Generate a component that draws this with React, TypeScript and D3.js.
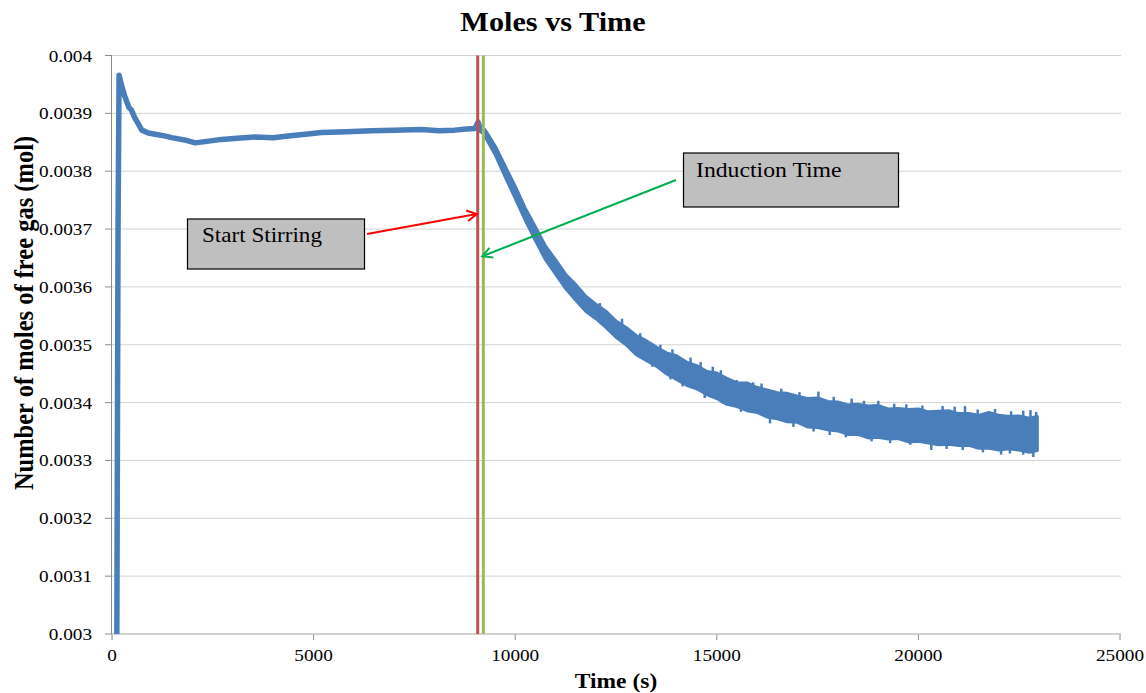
import React from 'react';
import * as d3 from 'd3';

// time (s) and moles before stirring starts (single trace)
const preTime = [120, 150, 175, 250, 320, 420, 480, 560, 740, 900, 1070, 1300, 1480, 1800, 2060, 2400, 2720, 3100, 3550, 4000, 4370, 4800, 5200, 5800, 6440, 7000, 7680, 8100, 8500, 8800, 9000, 9080, 9150, 9250];
const preMoles = [0.0030, 0.0037, 0.003966, 0.003945, 0.003929, 0.00391, 0.003906, 0.003893, 0.003871, 0.003866, 0.003864, 0.003861, 0.003858, 0.003854, 0.003849, 0.003852, 0.003855, 0.003857, 0.003859, 0.003858, 0.003861, 0.003864, 0.003867, 0.003868, 0.00387, 0.003871, 0.003872, 0.00387, 0.003871, 0.003873, 0.003874, 0.003885, 0.00387, 0.003866];

// after stirring the trace gets noisy: upper / lower envelope of the band
const postTime = [9250, 9500, 9750, 10000, 10250, 10500, 10750, 11000, 11250, 11500, 11750, 12000, 12250, 12500, 12750, 13000, 13250, 13500, 13750, 14000, 14250, 14500, 14750, 15000, 15250, 15500, 15750, 16000, 16250, 16500, 16750, 17000, 17250, 17500, 17750, 18000, 18250, 18500, 18750, 19000, 19250, 19500, 19750, 20000, 20250, 20500, 20750, 21000, 21250, 21500, 21750, 22000, 22250, 22500, 22750, 22950];
const postUpper = [0.003872, 0.003844, 0.003809, 0.003774, 0.003736, 0.003704, 0.003671, 0.003647, 0.003622, 0.003604, 0.003584, 0.00357, 0.003558, 0.003541, 0.00353, 0.003516, 0.003507, 0.003496, 0.003486, 0.003481, 0.00347, 0.003464, 0.003454, 0.003451, 0.003442, 0.003434, 0.003434, 0.003426, 0.003422, 0.003417, 0.003416, 0.003411, 0.003407, 0.003408, 0.003402, 0.003401, 0.003396, 0.003397, 0.003394, 0.003395, 0.003389, 0.00339, 0.003388, 0.003389, 0.003384, 0.003385, 0.003386, 0.003381, 0.003381, 0.003378, 0.003383, 0.003378, 0.003376, 0.003377, 0.003373, 0.003376];
const postLower = [0.00386, 0.003829, 0.00379, 0.003753, 0.003715, 0.00368, 0.003647, 0.003622, 0.003597, 0.003577, 0.003558, 0.003545, 0.00353, 0.003513, 0.0035, 0.003483, 0.003473, 0.003463, 0.00345, 0.00344, 0.00343, 0.003424, 0.003414, 0.003407, 0.003397, 0.003393, 0.003386, 0.003383, 0.003375, 0.003372, 0.003367, 0.003366, 0.003358, 0.003357, 0.003353, 0.003351, 0.003345, 0.003345, 0.003339, 0.00334, 0.003337, 0.003338, 0.003332, 0.003333, 0.00333, 0.003327, 0.003328, 0.003326, 0.003326, 0.003321, 0.003321, 0.003318, 0.00332, 0.003318, 0.003314, 0.003317];

// single noise spikes sticking out of the band
const spikeTime = [12100, 12650, 13100, 13600, 13900, 14350, 14600, 14900, 15100, 15495, 15900, 16110, 16600, 17050, 17520, 17900, 18345, 18650, 19005, 19400, 19700, 20100, 20600, 20900, 21155, 21470, 21900, 22300, 22600, 22780, 22920,
  12400, 12900, 13400, 13850, 14150, 14700, 15150, 15600, 16320, 16900, 17400, 17800, 18200, 18840, 19300, 19800, 20320, 20700, 21100, 21600, 22050, 22270, 22600, 22850];
const spikeMoles = [0.003572, 0.003545, 0.00352, 0.0035, 0.003492, 0.003478, 0.00347, 0.003462, 0.003456, 0.003439, 0.003435, 0.003433, 0.003424, 0.003418, 0.003419, 0.00341, 0.003407, 0.003403, 0.003403, 0.003398, 0.003397, 0.003395, 0.003394, 0.003393, 0.003394, 0.003388, 0.003389, 0.003385, 0.003386, 0.003387, 0.003384,
  0.003522, 0.00349, 0.003462, 0.00344, 0.003428, 0.003408, 0.003398, 0.003384, 0.003364, 0.003358, 0.00335, 0.003344, 0.00334, 0.003333, 0.00333, 0.003327, 0.003318, 0.00332, 0.003318, 0.003314, 0.00331, 0.003312, 0.00331, 0.003306];

const yTicks = [0.003, 0.0031, 0.0032, 0.0033, 0.0034, 0.0035, 0.0036, 0.0037, 0.0038, 0.0039, 0.004];
const yTickLabels = ['0.003', '0.0031', '0.0032', '0.0033', '0.0034', '0.0035', '0.0036', '0.0037', '0.0038', '0.0039', '0.004'];
const xTicks = [0, 5000, 10000, 15000, 20000, 25000];

const stirTime = 9070;
const inductionTime = 9210;

const W = 1146;
const H = 693;
const font = '"Liberation Serif", "Times New Roman", serif';
const blue = '#4a7ebb';

// the source picture is a little wider than tall, so text is stretched sideways
function SText({ x, y, sx = 1.1, size, anchor = 'start', bold = false, children }) {
  return (
    <text transform={`translate(${x},${y}) scale(${sx},1)`} textAnchor={anchor}
      fontFamily={font} fontSize={size} fontWeight={bold ? 'bold' : 'normal'} fill="#000">
      {children}
    </text>
  );
}

function arrowHead(x1, y1, x2, y2, len) {
  const a = Math.atan2(y2 - y1, x2 - x1);
  const s = 0.5;
  const p1 = [x2 - len * Math.cos(a - s), y2 - len * Math.sin(a - s)];
  const p2 = [x2 - len * Math.cos(a + s), y2 - len * Math.sin(a + s)];
  return `M${p1[0]},${p1[1]}L${x2},${y2}L${p2[0]},${p2[1]}`;
}

export default function App() {
  const x = d3.scaleLinear().domain([0, 25000]).range([112, 1120]);
  const y = d3.scaleLinear().domain([0.003, 0.004]).range([634, 55.5]);

  const pre = preTime.map((t, i) => [t, preMoles[i]]);
  const post = postTime.map((t, i) => ({ t, hi: postUpper[i], lo: postLower[i] }));
  const mid = d3.scaleLinear().domain(postTime).range(postTime.map((t, i) => (postUpper[i] + postLower[i]) / 2));

  const line = d3.line().x(d => x(d[0])).y(d => y(d[1]));
  const area = d3.area()
    .x(d => x(d.t))
    .y0(d => y(d.lo))
    .y1(d => y(d.hi));

  const redStart = [367, 234];
  const redTip = [x(stirTime) - 1, y(0.003726)];
  const greenStart = [676, 180];
  const greenTip = [x(inductionTime) - 1, y(0.003653)];

  return (
    <svg width={W} height={H} style={{ position: 'absolute', left: 0, top: 0, background: '#fff' }}>
      <SText x={553} y={31} size={27} anchor="middle" bold sx={1.12}>Moles vs Time</SText>

      {yTicks.map((v, i) => (
        <g key={'y' + i}>
          <line x1={x(0)} x2={1121} y1={y(v)} y2={y(v)} stroke="#d3d3d3" strokeWidth={1} />
          <line x1={105} x2={x(0)} y1={y(v)} y2={y(v)} stroke="#8c8c8c" strokeWidth={1} />
          <SText x={92} y={y(v) + 6} size={17.5} anchor="end">{yTickLabels[i]}</SText>
        </g>
      ))}
      {xTicks.map(v => (
        <g key={'x' + v}>
          <line x1={x(v)} x2={x(v)} y1={y(0.003)} y2={y(0.003) + 6} stroke="#8c8c8c" strokeWidth={1} />
          <SText x={x(v)} y={661} size={17.5} anchor="middle">{v}</SText>
        </g>
      ))}
      <line x1={x(0) - 0.5} x2={x(0) - 0.5} y1={y(0.004)} y2={y(0.003)} stroke="#8c8c8c" strokeWidth={1} />
      <line x1={x(0)} x2={1121} y1={y(0.003)} y2={y(0.003)} stroke="#c8c8c8" strokeWidth={1.5} />

      <SText x={616} y={688} size={21} anchor="middle" bold sx={1.12}>Time (s)</SText>
      <text transform={`translate(33,${313}) rotate(-90) scale(1,1.1)`} textAnchor="middle"
        fontFamily={font} fontWeight="bold" fontSize={24.5}>Number of moles of free gas (mol)</text>

      <path d={line(pre)} fill="none" stroke={blue} strokeWidth={5.5} strokeLinejoin="round" />
      <path d={area(post)} fill={blue} stroke={blue} strokeWidth={3} strokeLinejoin="round" />
      {spikeTime.map((t, i) => (
        <line key={'s' + i} x1={x(t)} x2={x(t)} y1={y(mid(t))} y2={y(spikeMoles[i])} stroke={blue} strokeWidth={2.5} />
      ))}

      <line x1={x(stirTime)} x2={x(stirTime)} y1={y(0.004)} y2={y(0.003)} stroke="#c0504d" strokeWidth={3} />
      <line x1={x(inductionTime)} x2={x(inductionTime)} y1={y(0.004)} y2={y(0.003)} stroke="#9bbb59" strokeWidth={3} />

      <rect x={187.5} y={219} width={177} height={50} fill="#bfbfbf" stroke="#000" strokeWidth={1.2} />
      <SText x={202} y={242} size={21} sx={1.1}>Start Stirring</SText>
      <rect x={683.5} y={153} width={215} height={54} fill="#bfbfbf" stroke="#000" strokeWidth={1.2} />
      <SText x={696} y={177} size={21} sx={1.13}>Induction Time</SText>

      <line x1={redStart[0]} y1={redStart[1]} x2={redTip[0]} y2={redTip[1]} stroke="#ff0000" strokeWidth={2} />
      <path d={arrowHead(redStart[0], redStart[1], redTip[0], redTip[1], 11)} fill="none" stroke="#ff0000" strokeWidth={2} />
      <line x1={greenStart[0]} y1={greenStart[1]} x2={greenTip[0]} y2={greenTip[1]} stroke="#00b050" strokeWidth={2} />
      <path d={arrowHead(greenStart[0], greenStart[1], greenTip[0], greenTip[1], 11)} fill="none" stroke="#00b050" strokeWidth={2} />
    </svg>
  );
}
